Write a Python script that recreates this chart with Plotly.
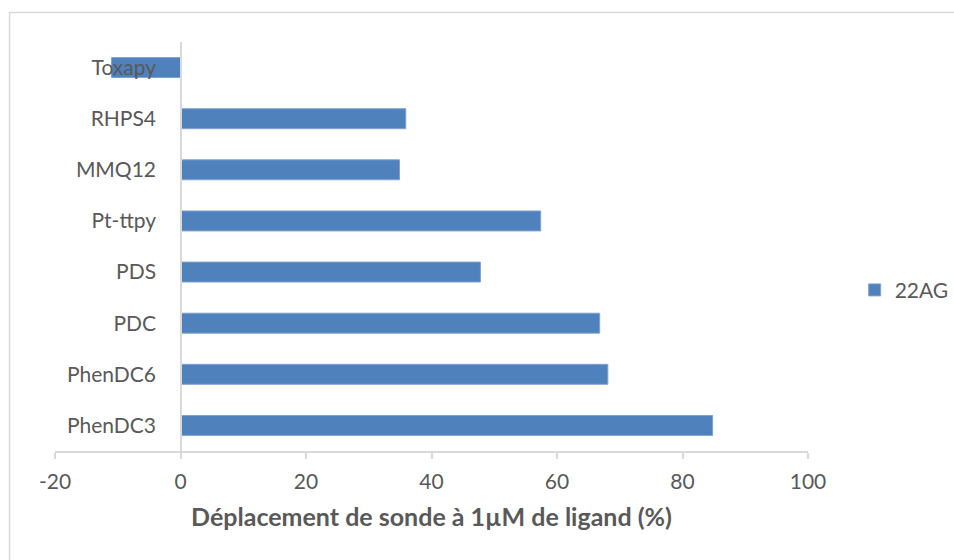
import plotly.graph_objects as go

categories = ["PhenDC3", "PhenDC6", "PDC", "PDS", "Pt-ttpy", "MMQ12", "RHPS4", "Toxapy"]
values_22AG = [84.8, 68.1, 66.8, 47.8, 57.4, 34.9, 35.9, -11.0]
x_tick_vals = [-20, 0, 20, 40, 60, 80, 100]
x_tick_text = ["-20", "0", "20", "40", "60", "80", "100"]

FONT = "Lato"
GREY_TXT = "#595959"
GREY_LINE = "#d9d9d9"

fig = go.Figure()
fig.add_trace(go.Bar(
    y=categories, x=values_22AG, orientation="h", name="22AG",
    marker=dict(color="#4F81BD", line=dict(color="#7FA2CF", width=1)),
))

fig.update_layout(
    width=954, height=560,
    paper_bgcolor="white", plot_bgcolor="white",
    margin=dict(l=55, r=146, t=42, b=109, autoexpand=False),
    bargap=0.61,
    font=dict(family=FONT, size=21, color=GREY_TXT),
    showlegend=True,
    legend=dict(x=1.062, y=0.393, xanchor="left", yanchor="middle",
                font=dict(family=FONT, size=21, color=GREY_TXT),
                itemwidth=30, bgcolor="rgba(0,0,0,0)"),
    xaxis=dict(
        range=[-20, 100], tickvals=x_tick_vals, ticktext=x_tick_text,
        showgrid=False, zeroline=False,
        showline=True, linecolor=GREY_LINE, linewidth=1.5,
        ticks="outside", ticklen=6, tickcolor=GREY_LINE, tickwidth=1.5,
        ticklabelstandoff=5,
        tickfont=dict(family=FONT, size=21, color=GREY_TXT),
        title=dict(text="<b>Déplacement de sonde à 1µM de ligand (%)</b>",
                   font=dict(family=FONT, size=25, color=GREY_TXT), standoff=17),
        fixedrange=True,
    ),
    yaxis=dict(
        categoryorder="array", categoryarray=categories,
        anchor="free", position=(181 - 55) / 753,
        showgrid=False, zeroline=False,
        showline=True, linecolor=GREY_LINE, linewidth=1.5,
        ticks="", ticklabelstandoff=20,
        tickfont=dict(family=FONT, size=21, color=GREY_TXT),
        fixedrange=True,
    ),
    shapes=[dict(type="rect", xref="paper", yref="paper",
                 x0=-0.0604, x1=1.3, y0=-0.4, y1=1.072,
                 line=dict(color=GREY_LINE, width=1.5), fillcolor="rgba(0,0,0,0)",
                 layer="below")],
)

fig.write_html("out.html", config={"displayModeBar": False},
               post_script="document.body.style.margin='0';document.body.style.overflow='hidden';")
